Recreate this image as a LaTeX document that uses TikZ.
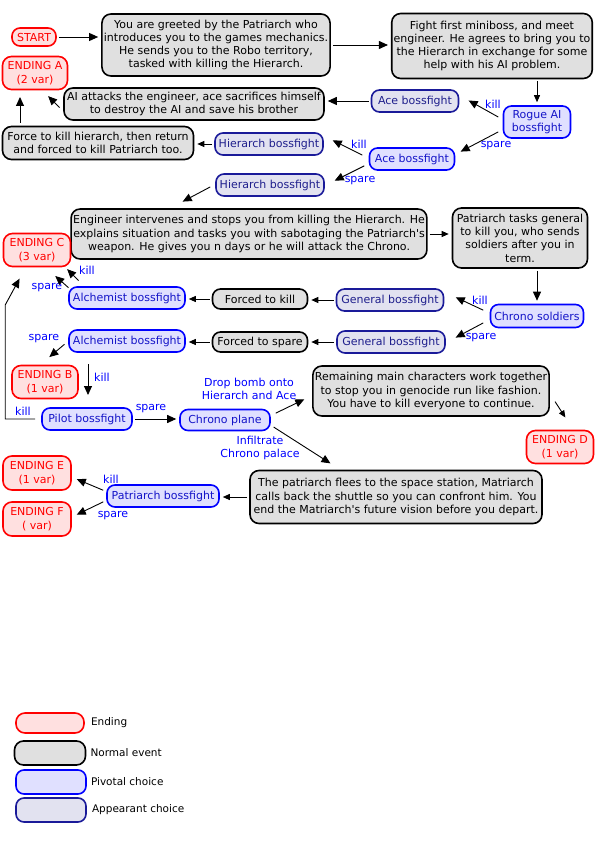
\documentclass[tikz,border=0pt]{standalone}
\usepackage{fontspec}
\setmainfont{DejaVu Sans}[Ligatures=TeXOff]
\usetikzlibrary{arrows.meta,positioning}

\definecolor{endline}{RGB}{255,0,0}
\definecolor{endfill}{RGB}{255,224,224}
\definecolor{evfill}{RGB}{224,224,224}
\definecolor{pivline}{RGB}{0,0,255}
\definecolor{pivfill}{RGB}{224,224,255}
\definecolor{pivtext}{RGB}{20,20,200}
\definecolor{appline}{RGB}{26,26,153}
\definecolor{appfill}{RGB}{226,226,240}
\definecolor{apptext}{RGB}{30,30,140}
\definecolor{lbl}{RGB}{0,0,255}

\begin{document}
\begin{tikzpicture}[x=1pt,y=-1pt,
		every node/.style={font=\fontsize{11}{13.3}\selectfont,align=center,inner sep=2pt},
		box/.style={draw,line width=1.6pt,rounded corners=9pt},
		ending/.style={box,draw=endline,fill=endfill,text=endline,minimum height=33pt,minimum width=67pt},
		event/.style={box,draw=black,fill=evfill},
		pivot/.style={box,draw=pivline,fill=pivfill,text=pivtext,minimum height=22pt,rounded corners=8pt},
		appear/.style={box,draw=appline,fill=appfill,text=apptext,minimum height=22pt,rounded corners=8pt},
		lab/.style={text=lbl,inner sep=1pt},
		legtext/.style={font=\fontsize{10.5}{12}\selectfont},
		arr/.style={-{Triangle[length=9pt,width=8pt]},line width=0.9pt,shorten <=2pt,shorten >=3pt},
		sarr/.style={-{Triangle[length=7pt,width=6pt]},line width=0.9pt,shorten <=2pt,shorten >=3pt}]
	\useasboundingbox (0,0) rectangle (595,842);
	
	\node[ending,minimum width=44pt,minimum height=18pt,rounded corners=8pt] (start) at (34,37) {START};
	\node[event,minimum width=227pt,minimum height=62pt] (greet) at (216,45) {You are greeted by the Patriarch who\\introduces you to the games mechanics.\\He sends you to the Robo territory,\\tasked with killing the Hierarch.};
	\node[event,minimum width=195pt,minimum height=65pt] (meet) at (492,46) {Fight first miniboss, and meet\\engineer. He agrees to bring you to\\the Hierarch in exchange for some\\help with his AI problem.};
	\node[ending,minimum width=65pt] (endA) at (35,73) {ENDING A\\(2 var)};
	\node[event,minimum width=260pt,minimum height=32pt] (aiatk) at (194,104) {AI attacks the engineer, ace sacrifices himself\\to destroy the AI and save his brother};
	\node[appear,minimum width=87pt] (ace1) at (415,101) {Ace bossfight};
	\node[pivot,minimum width=67pt,minimum height=32pt] (rogue) at (537,122) {Rogue AI\\bossfight};
	\node[event,minimum width=191pt,minimum height=33pt] (force) at (98,143) {Force to kill hierarch, then return\\and forced to kill Patriarch too.};
	\node[appear,minimum width=108pt] (hier1) at (269,144) {Hierarch bossfight};
	\node[pivot,minimum width=85pt] (ace2) at (412,159) {Ace bossfight};
	\node[appear,minimum width=108pt] (hier2) at (270,185) {Hierarch bossfight};
	\node[event,minimum width=351pt,minimum height=50pt] (engin) at (249,234) {Engineer intervenes and stops you from killing the Hierarch. He\\explains situation and tasks you with sabotaging the Patriarch's\\weapon. He gives you n days or he will attack the Chrono.};
	\node[event,minimum width=135pt,minimum height=60pt] (tasks) at (520,238) {Patriarch tasks general\\to kill you, who sends\\soldiers after you in\\term.};
	\node[ending,minimum width=67pt] (endC) at (37,250) {ENDING C\\(3 var)};
	\node[pivot,minimum width=116pt] (alch1) at (127,298) {Alchemist bossfight};
	\node[event,minimum width=95pt,minimum height=20pt,rounded corners=8pt] (fkill) at (260,299) {Forced to kill};
	\node[appear,minimum width=107pt] (gen1) at (390,300) {General bossfight};
	\node[pivot,minimum width=93pt,minimum height=23pt] (soldier) at (537,316) {Chrono soldiers};
	\node[pivot,minimum width=116pt] (alch2) at (127,341) {Alchemist bossfight};
	\node[event,minimum width=95pt,minimum height=20pt,rounded corners=8pt] (fspare) at (260,342) {Forced to spare};
	\node[appear,minimum width=108pt] (gen2) at (391,342) {General bossfight};
	\node[ending,minimum width=66pt] (endB) at (45,382) {ENDING B\\(1 var)};
	\node[event,minimum width=236pt,minimum height=50pt] (remain) at (431,391) {Remaining main characters work together\\to stop you in genocide run like fashion.\\You have to kill everyone to continue.};
	\node[ending,minimum width=67pt] (endD) at (560,447) {ENDING D\\(1 var)};
	\node[pivot,minimum width=90pt] (pilot) at (87,419) {Pilot bossfight};
	\node[pivot,minimum width=90pt,minimum height=21pt] (plane) at (225,420) {Chrono plane};
	\node[ending,minimum width=68pt,minimum height=34pt] (endE) at (37,473) {ENDING E\\(1 var)};
	\node[ending,minimum width=68pt,minimum height=34pt] (endF) at (37,519) {ENDING F\\( var)};
	\node[pivot,minimum width=112pt] (patboss) at (163,496) {Patriarch bossfight};
	\node[event,minimum width=292pt,minimum height=53pt] (flee) at (396,497) {The patriarch flees to the space station, Matriarch\\calls back the shuttle so you can confront him. You\\end the Matriarch's future vision before you depart.};
	
	\node[lab] (bomb)     at (249,389) {Drop bomb onto\\Hierarch and Ace};
	\node[lab] (infil)    at (260,448) {Infiltrate\\Chrono palace};
	\node[lab] (killR)    at (493,104) {kill};
	\node[lab] (spareR)   at (496,146) {spare};
	\node[lab] (killA)    at (359,144) {kill};
	\node[lab] (spareA)   at (360,181) {spare};
	\node[lab] (killS)    at (480,300) {kill};
	\node[lab] (spareS)   at (481,338) {spare};
	\node[lab] (killC)    at (87,270)  {kill};
	\node[lab] (spareC)   at (47,288)  {spare};
	\node[lab] (spareB)   at (44,339)  {spare};
	\node[lab] (killB)    at (102,377) {kill};
	\node[lab] (killP)    at (23,411)  {kill};
	\node[lab] (spareP)   at (151,409) {spare};
	\node[lab] (killE)    at (111,479) {kill};
	\node[lab] (spareE)   at (113,516) {spare};
	
	\draw[arr]  (start.east) -- (start.east -| greet.west);
	\draw[arr]  (greet.east) -- (greet.east -| meet.west);
	\draw[sarr] (rogue.north |- meet.south) -- (rogue.north);
	\draw[arr]  ([shift={(-37,-4)}]rogue.center) -- ([shift={(51,-2)}]ace1.center);
	\draw[arr]  ([shift={(-37,9)}]rogue.center) -- ([shift={(46,-6)}]ace2.center);
	\draw[arr]  (ace1.west) -- (ace1.west -| aiatk.east);
	\draw[arr]  ([shift={(-133,5)}]aiatk.center) -- ([shift={(11,21)}]endA.center);
	\draw[arr]  ([shift={(-78,-18)}]force.center) -- ([shift={(-15,21)}]endA.center);
	\draw[arr]  ([shift={(-48,-3)}]ace2.center) -- ([shift={(61,-5)}]hier1.center);
	\draw[arr]  ([shift={(-46,6)}]ace2.center) -- ([shift={(62,-3)}]hier2.center);
	\draw[sarr] (hier1.west) -- (hier1.west -| force.east);
	\draw[arr]  ([shift={(-58,1)}]hier2.center) -- ([shift={(-69,-31)}]engin.center);
	\draw[sarr] (engin.east) -- (engin.east -| tasks.west);
	\draw[arr]  (soldier.north |- tasks.south) -- (soldier.north);
	\draw[arr]  ([shift={(-52,-5)}]soldier.center) -- ([shift={(63,-4)}]gen1.center);
	\draw[arr]  ([shift={(-52,6)}]soldier.center) -- ([shift={(62,-3)}]gen2.center);
	\draw[sarr] (gen1.west) -- (gen1.west -| fkill.east);
	\draw[sarr] (gen2.west) -- (gen2.west -| fspare.east);
	\draw[sarr] (fkill.west) -- (fkill.west -| alch1.east);
	\draw[sarr] (fspare.west) -- (fspare.west -| alch2.east);
	\draw[arr]  ([shift={(-47,-16)}]alch1.center) -- ([shift={(28,17)}]endC.center);
	\draw[arr]  ([shift={(-57,-9)}]alch1.center) -- ([shift={(16,24)}]endC.center);
	\draw[arr]  ([shift={(-61,2)}]alch2.center) -- ([shift={(2,-23)}]endB.center);
	\draw[arr]  ([shift={(-39,21)}]alch2.center) -- ([shift={(1,-21)}]pilot.center);
	\draw[arr,shorten <=0pt]  ([shift={(-6,0)}]pilot.west) -- ++(-30,0) -- ++(0,-114) -- ([shift={(-16,26)}]endC.center);
	\draw[arr]  (pilot.east) -- (pilot.east -| plane.west);
	\draw[arr]  ([shift={(49,-6)}]plane.center) -- ([shift={(-124,7)}]remain.center);
	\draw[arr]  ([shift={(47,6)}]plane.center) -- ([shift={(-63,-32)}]flee.center);
	\draw[sarr] ([shift={(123,9)}]remain.center) -- ([shift={(7,-27)}]endD.center);
	\draw[sarr] (flee.west) -- (flee.west -| patboss.east);
	\draw[arr]  ([shift={(-58,-5)}]patboss.center) -- ([shift={(37,5)}]endE.center);
	\draw[arr]  ([shift={(-58,5)}]patboss.center) -- ([shift={(37,-3)}]endF.center);
	
	\node[ending,minimum width=68pt,minimum height=20pt] (lgEnd) at (50,723) {};
	\node[event,minimum width=71pt,minimum height=24pt] (lgEv) at (50,753) {};
	\node[pivot,minimum width=70pt,minimum height=24pt] (lgPiv) at (51,782) {};
	\node[appear,minimum width=70pt,minimum height=24pt] (lgApp) at (51,810) {};
	\node[legtext,right=4pt of lgEnd.east] (lgEndT) {Ending};
	\node[legtext,right=2pt of lgEv.east] (lgEvT) {Normal event};
	\node[legtext,right=2pt of lgPiv.east] (lgPivT) {Pivotal choice};
	\node[legtext,right=3pt of lgApp.east] (lgAppT) {Appearant choice};
\end{tikzpicture}
\end{document}
